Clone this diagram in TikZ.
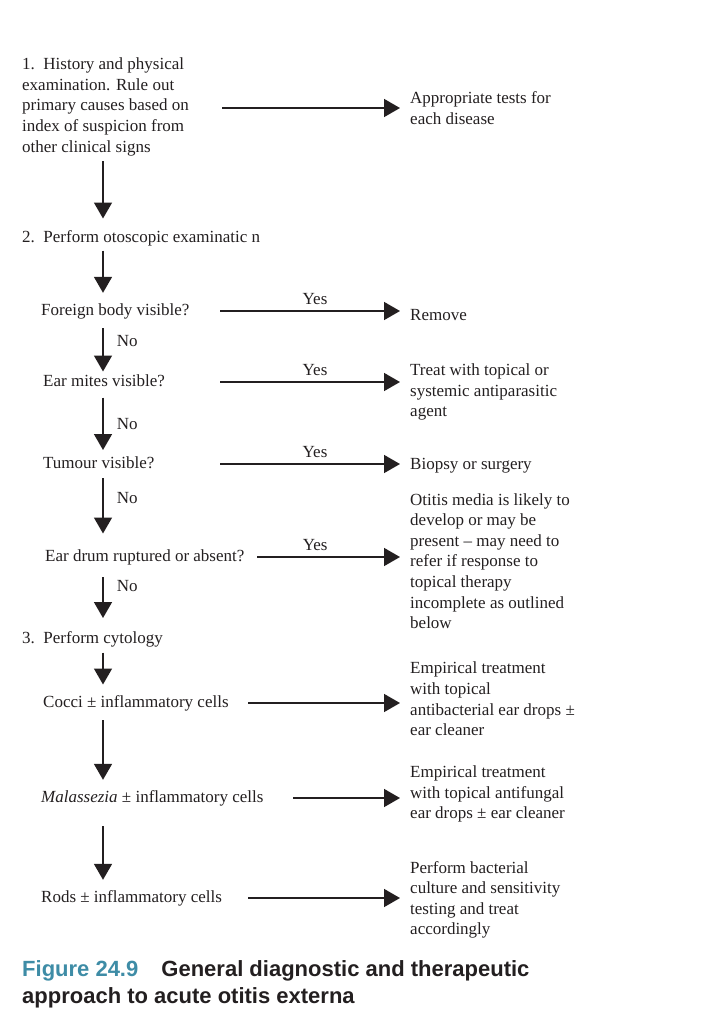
\documentclass[tikz,border=0pt]{standalone}
\usepackage{fontspec}
\setmainfont{Liberation Serif}
\newfontfamily\capfont{Liberation Sans}
\usetikzlibrary{arrows.meta}
\definecolor{ink}{HTML}{231F20}
\definecolor{figblue}{RGB}{62,140,166}

\begin{document}
\begin{tikzpicture}[x=1pt, y=-1pt]
    \tikzstyle{every node}=[inner sep=0pt, anchor=west, text=ink, align=left, font=\fontsize{17}{20.6}\selectfont, execute at begin node=\strut, execute at end node=\strut]
    \tikzstyle{arr}=[draw=ink, line width=1.6pt, -{Triangle[length=16pt, width=18pt]}]
    \tikzstyle{harr}=[arr, shorten >=10pt]
    \tikzstyle{yes}=[anchor=south, above=0pt]
    \tikzstyle{no}=[anchor=west, xshift=13pt, yshift=-2pt]
    \useasboundingbox (0,0) rectangle (713,1029);
    \coordinate (col) at (103,0);
    \node (hist) at (22,108) {1.\enspace History and physical\\examination. Rule out\\primary causes based on\\index of suspicion from\\other clinical signs};
    \node (tests) at (410,111) {Appropriate tests for\\each disease};
    \node (otos) at (22,238) {2.\enspace Perform otoscopic examinatic n};
    \node (foreign) at (41,311) {Foreign body visible?};
    \node (remove) at (410,316) {Remove};
    \node (mites) at (43,382) {Ear mites visible?};
    \node (treat) at (410,393.5) {Treat with topical or\\systemic antiparasitic\\agent};
    \node (tumour) at (43,464) {Tumour visible?};
    \node (biopsy) at (410,465) {Biopsy or surgery};
    \node (drum) at (45,557) {Ear drum ruptured or absent?};
    \node (otitis) at (410,564) {Otitis media is likely to\\develop or may be\\present -- may need to\\refer if response to\\topical therapy\\incomplete as outlined\\below};
    \node (cyto) at (22,639.5) {3.\enspace Perform cytology};
    \node (cocci) at (43,703) {Cocci ± inflammatory cells};
    \node (antibac) at (410,702) {Empirical treatment\\with topical\\antibacterial ear drops ±\\ear cleaner};
    \node (malass) at (41,798) {\textit{Malassezia} ± inflammatory cells};
    \node (antifung) at (410,795.5) {Empirical treatment\\with topical antifungal\\ear drops ± ear cleaner};
    \node (rods) at (41,898) {Rods ± inflammatory cells};
    \node (culture) at (410,901) {Perform bacterial\\culture and sensitivity\\testing and treat\\accordingly};
    \node (caption) at (22,986.5) [font=\capfont\bfseries\fontsize{22}{27}\selectfont] {\textcolor{figblue}{Figure 24.9}\hspace{1.05em}General diagnostic and therapeutic\\approach to acute otitis externa};

    \draw[harr] (hist.east -| 222,0) -- (hist.east -| tests.west);
    \draw[harr] (foreign.east -| 220,0) -- node[yes] {Yes} (foreign.east -| remove.west);
    \draw[harr] (mites.east -| 220,0) -- node[yes] {Yes} (mites.east -| treat.west);
    \draw[harr] (tumour.east -| 220,0) -- node[yes] {Yes} (tumour.east -| biopsy.west);
    \draw[harr] (drum.east -| 257,0) -- node[yes, pos=.38] {Yes} (drum.east -| otitis.west);
    \draw[harr] (cocci.east -| 248,0) -- (cocci.east -| antibac.west);
    \draw[harr] (malass.east -| 293,0) -- (malass.east -| antifung.west);
    \draw[harr] (rods.east -| 248,0) -- (rods.east -| culture.west);

    \draw[arr, shorten <=3pt, shorten >=9pt] (hist.south -| col) -- (otos.north -| col);
    \draw[arr, shorten <=2pt, shorten >=7.7pt] (otos.south -| col) -- (foreign.north -| col);
    \draw[arr, shorten <=6.7pt] (foreign.south -| col) -- node[no, pos=.38] {No} (mites.north -| col);
    \draw[arr, shorten <=5pt, shorten >=3.5pt] (mites.south -| col) -- node[no, pos=.5] {No} (tumour.north -| col);
    \draw[arr, shorten <=3.5pt, shorten >=13pt] (tumour.south -| col) -- node[no, pos=.32] {No} (drum.north -| col);
    \draw[arr, shorten <=9.5pt, shorten >=11pt] (drum.south -| col) -- node[no, pos=.29] {No} (cyto.north -| col);
    \draw[arr, shorten <=2.5pt, shorten >=8pt] (cyto.south -| col) -- (cocci.north -| col);
    \draw[arr, shorten <=6.7pt, shorten >=7.7pt] (cocci.south -| col) -- (malass.north -| col);
    \draw[arr, shorten <=17.5pt, shorten >=7.7pt] (malass.south -| col) -- (rods.north -| col);
\end{tikzpicture}
\end{document}
